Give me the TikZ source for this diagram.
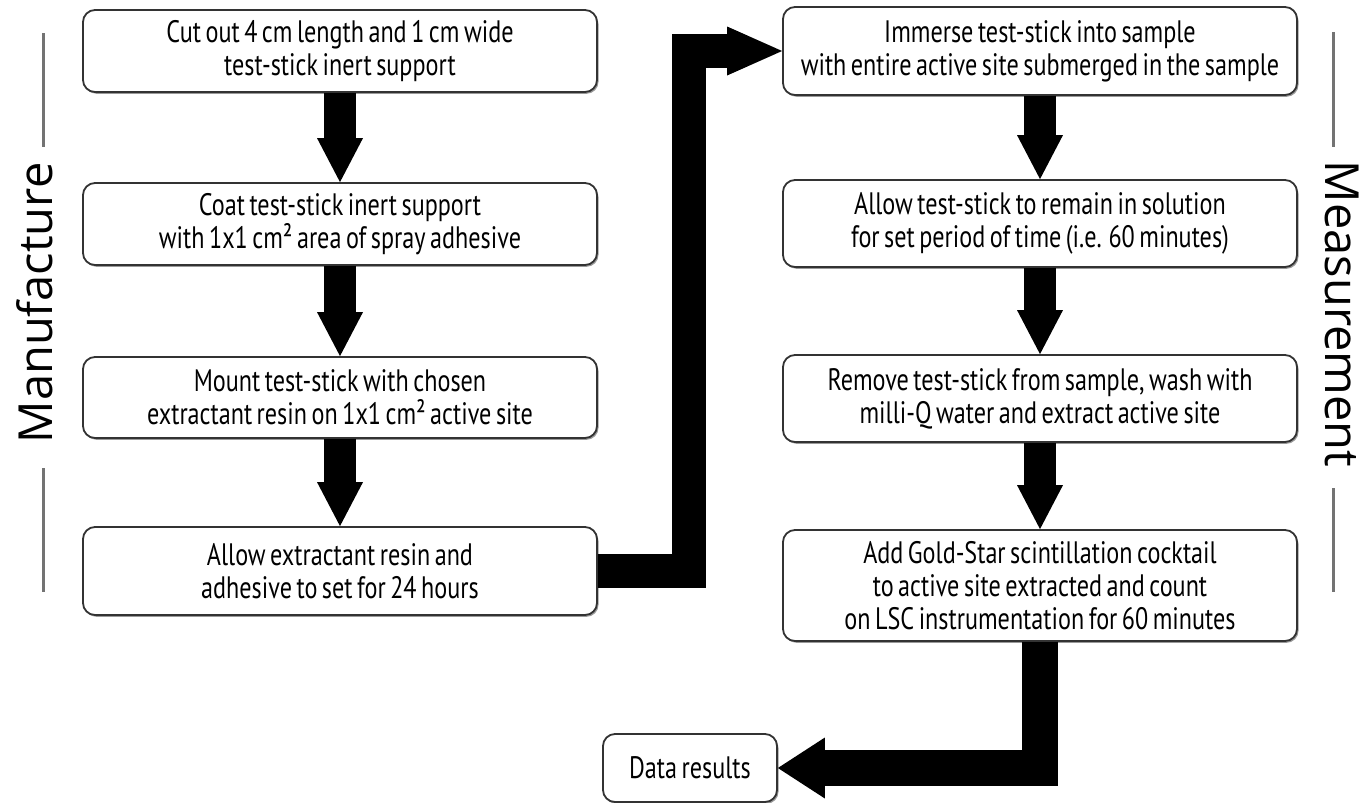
\documentclass[tikz,border=0pt]{standalone}
\usepackage{fontspec}
\setmainfont{PT Sans}[FakeStretch=0.78, WordSpace=0.7]
\newfontfamily\sidefont{Open Sans}
\usetikzlibrary{arrows.meta,shadows}
\begin{document}
\begin{tikzpicture}[x=1pt,y=-1pt,
  box/.style={draw=black!80, line width=1.8pt, rounded corners=12pt, fill=white,
    drop shadow={shadow xshift=1.5pt, shadow yshift=-1.8pt, fill=black!40, opacity=1},
    align=center, inner sep=0pt, minimum width=514pt,
    font=\fontsize{31}{33}\selectfont},
  downarr/.style={line width=32pt, -{Triangle[width=46pt,length=44pt,line width=0pt]}},
  elbowL/.style={line width=34pt, -{Triangle[width=49pt,length=55pt,line width=0pt]}},
  elbowR/.style={line width=36pt, -{Triangle[width=61pt,length=47pt,line width=0pt]}},
  sidelabel/.style={font=\sidefont\fontsize{47}{50}\selectfont, inner sep=0pt, anchor=base},
  sideline/.style={draw=black!55, line width=3pt}]
\fill[white] (0,0) rectangle (1360,803);
\useasboundingbox (0,0) rectangle (1360,803);

% left column
\node[box, minimum height=82pt] (B1) at (340,51)
  {Cut out 4 cm length and 1 cm wide\\test-stick inert support};
\node[box, minimum height=82pt] (B2) at (340,224)
  {Coat test-stick inert support\\with 1x1 cm² area of spray adhesive};
\node[box, minimum height=81pt] (B3) at (340,397.5)
  {Mount test-stick with chosen\\extractant resin on 1x1 cm² active site};
\node[box, minimum height=88pt] (B4) at (340,571)
  {Allow extractant resin and\\adhesive to set for 24 hours};

% right column
\node[box, minimum height=88pt] (R1) at (1040,51)
  {Immerse test-stick into sample\\with entire active site submerged in the sample};
\node[box, minimum height=87pt] (R2) at (1040,223.5)
  {Allow test-stick to remain in solution\\for set period of time (i.e. 60 minutes)};
\node[box, minimum height=87pt] (R3) at (1040,398.5)
  {Remove test-stick from sample, wash with\\milli-Q water and extract active site};
\node[box, minimum height=111pt] (R4) at (1040,585.5)
  {Add Gold-Star scintillation cocktail\\to active site extracted and count\\on LSC instrumentation for 60 minutes};

\node[box, minimum width=174pt, minimum height=68pt] (D) at (690,768) {Data results};

% connectors
\draw[downarr] (B1.south) -- (B2.north);
\draw[downarr] (B2.south) -- (B3.north);
\draw[downarr] (B3.south) -- (B4.north);
\draw[downarr] (R1.south) -- (R2.north);
\draw[downarr] (R2.south) -- (R3.north);
\draw[downarr] (R3.south) -- (R4.north);
\draw[elbowL] (B4.east) -- ++(91,0) |- (R1.west);
\draw[elbowR] (R4.south) |- (D.east);

% side labels
\node[sidelabel, rotate=90] (manu) at (52,303) {Manufacture};
\node[sidelabel, rotate=-90] (meas) at (1325,314) {Measurement};
\draw[sideline] (43,33) -- (43,147);
\draw[sideline] (43,468) -- (43,592);
\draw[sideline] (1333,32) -- (1333,147);
\draw[sideline] (1333,488) -- (1333,592);
\end{tikzpicture}
\end{document}
